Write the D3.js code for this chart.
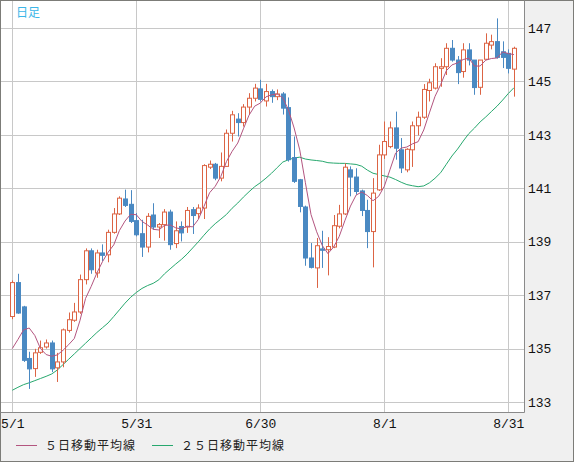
<!DOCTYPE html>
<html>
<head>
<meta charset="utf-8">
<script src="https://cdn.jsdelivr.net/npm/d3@7"></script>
<style>
  body { margin: 0; background: #f0f0f0; }
  svg { display: block; }
</style>
</head>
<body>
<svg></svg>
<script>
// daily candles, 2023-05-01 .. 2023-09-01 (weekdays)
const open = [136.2, 137.47, 136.56, 134.63, 134.25, 134.86, 135.06, 135.21, 134.28, 134.5,
  135.68, 136.06, 136.37, 137.58, 138.66, 137.83, 138.58, 138.51, 139.35, 140.04,
  140.6, 140.4, 139.79, 139.3, 138.8, 140.0, 139.55, 139.64, 140.11, 138.93,
  139.57, 139.55, 140.2, 140.05, 140.26, 141.79, 141.9, 141.38, 141.82, 143.06,
  143.59, 143.46, 144.04, 144.37, 144.72, 144.27, 144.62, 144.43, 144.53, 144.02,
  142.15, 141.32, 140.3, 138.39, 138.02, 138.73, 138.7, 138.8, 139.58, 140.04,
  141.69, 141.42, 140.9, 140.17, 139.38, 140.94, 142.25, 142.56, 143.26, 142.44,
  141.69, 142.44, 143.34, 143.66, 144.66, 144.75, 145.49, 145.55, 146.24, 145.8,
  145.37, 146.18, 145.8, 144.78, 145.83, 146.36, 146.49, 146.11, 146.05, 145.46];
const high = [137.55, 137.8, 136.6, 134.88, 134.99, 135.3, 135.34, 135.3, 134.84, 135.75,
  136.35, 136.71, 137.77, 138.75, 138.75, 138.7, 138.9, 139.45, 140.26, 140.7,
  140.95, 140.93, 140.07, 139.82, 140.07, 140.44, 139.7, 140.22, 140.2, 139.76,
  139.76, 140.3, 140.3, 140.4, 141.9, 142.04, 141.95, 142.34, 143.2, 143.9,
  143.81, 144.15, 144.56, 144.91, 145.06, 144.91, 144.7, 144.7, 144.6, 144.4,
  142.94, 141.35, 140.35, 138.95, 139.14, 139.41, 139.17, 140.0, 140.38, 141.94,
  141.82, 141.75, 140.95, 140.57, 141.38, 142.63, 143.5, 143.5, 143.87, 142.88,
  142.5, 143.5, 143.87, 144.9, 145.1, 145.68, 145.87, 146.43, 146.55, 145.95,
  146.43, 146.43, 145.8, 145.8, 146.8, 146.75, 147.36, 146.5, 146.2, 146.3];
const low = [136.1, 136.3, 134.5, 133.49, 133.94, 134.8, 135.0, 134.12, 133.75, 134.3,
  135.6, 136.0, 136.3, 137.4, 137.8, 137.65, 138.27, 138.23, 139.3, 140.0,
  140.3, 139.7, 139.2, 138.43, 138.6, 139.45, 139.14, 139.04, 138.7, 138.76,
  139.01, 139.33, 139.29, 139.85, 139.85, 141.72, 141.3, 141.26, 141.8, 142.75,
  142.94, 143.31, 143.75, 144.25, 144.25, 144.06, 144.2, 144.3, 143.76, 142.0,
  141.2, 140.1, 138.1, 138.0, 137.27, 138.02, 137.74, 138.76, 139.5, 140.0,
  140.7, 140.76, 139.96, 138.76, 138.04, 140.9, 142.1, 142.5, 142.07, 141.57,
  141.6, 141.8, 142.98, 143.6, 144.25, 144.7, 144.8, 145.24, 145.74, 144.9,
  145.14, 145.6, 144.5, 144.5, 145.8, 146.2, 145.85, 145.5, 145.3, 144.43];
const close = [137.47, 136.33, 134.56, 134.24, 134.84, 135.03, 135.21, 134.24, 134.5, 135.7,
  136.08, 136.37, 137.58, 138.66, 137.95, 138.58, 138.49, 139.35, 140.04, 140.63,
  140.36, 139.76, 139.26, 138.8, 139.95, 139.55, 139.64, 140.11, 138.89, 139.41,
  139.33, 140.17, 139.98, 140.26, 141.85, 141.9, 141.38, 141.82, 143.06, 143.75,
  143.46, 144.04, 144.37, 144.75, 144.33, 144.62, 144.43, 144.53, 144.0, 142.07,
  141.26, 140.32, 138.39, 138.04, 138.85, 138.68, 138.82, 139.6, 140.04, 141.79,
  141.42, 140.88, 140.17, 139.38, 140.82, 142.25, 142.75, 143.26, 142.5, 141.76,
  142.46, 143.34, 143.66, 144.7, 144.95, 145.55, 145.55, 146.24, 145.8, 145.33,
  146.18, 145.8, 144.77, 145.8, 146.43, 146.49, 145.9, 145.9, 145.49, 146.24];

// moving averages before enough closes are on the chart
const ma5Head = [135.0, 135.34, 135.7, 135.77];
const ma25Head = [133.44, 133.55, 133.65, 133.72, 133.8, 133.88, 133.96, 134.05, 134.2, 134.4,
  134.6, 134.8, 135.0, 135.2, 135.4, 135.6, 135.78, 135.96, 136.2, 136.45,
  136.7, 136.92, 137.1, 137.25];

const tickDates = ["2023-05-01", "2023-05-31", "2023-06-30", "2023-08-01", "2023-08-31"];
const tickLabels = ["5/1", "5/31", "6/30", "8/1", "8/31"];
const yTicks = [133, 135, 137, 139, 141, 143, 145, 147];
const legendNames = ["５日移動平均線", "２５日移動平均線"];
const legendColors = ["#b3557f", "#27a86e"];

const width = 574;
const height = 462;
const plotRight = 524;
const plotBottom = 412;

const dates = d3.timeDay
  .range(new Date(2023, 4, 1), new Date(2023, 8, 2))
  .filter((d) => d.getDay() !== 0 && d.getDay() !== 6);
const fmt = d3.timeFormat("%Y-%m-%d");
const dateKeys = dates.map(fmt);

const candles = dateKeys.map((k, i) => ({
  i: i,
  o: open[i],
  h: high[i],
  l: low[i],
  c: close[i],
}));

function movingAvg(n, head) {
  return close.map((_, i) => {
    if (i < n - 1) return head[i];
    return d3.mean(close.slice(i - n + 1, i + 1));
  });
}
const ma5 = movingAvg(5, ma5Head);
const ma25 = movingAvg(25, ma25Head);

const svg = d3.select("svg").attr("width", width).attr("height", height);

// outer frame
svg
  .append("rect")
  .attr("x", 0.5)
  .attr("y", 0.5)
  .attr("width", width - 1)
  .attr("height", height - 1)
  .attr("fill", "#f0f0f0")
  .attr("stroke", "#7c7c78");

svg
  .append("rect")
  .attr("x", 1)
  .attr("y", 1)
  .attr("width", plotRight - 1)
  .attr("height", plotBottom - 1)
  .attr("fill", "#ffffff");

const xScale = d3
  .scaleLinear()
  .domain([0, dateKeys.indexOf("2023-08-31")])
  .range([12.3, 508.3]);

const yScale = d3.scaleLinear().domain([133, 147]).range([402, 28]);

// grid
const grid = svg.append("g").attr("stroke", "#c8c8c8").attr("shape-rendering", "crispEdges");
grid
  .selectAll(".hgrid")
  .data(yTicks)
  .enter()
  .append("line")
  .attr("x1", 1)
  .attr("x2", plotRight)
  .attr("y1", (d) => Math.round(yScale(d)) + 0.5)
  .attr("y2", (d) => Math.round(yScale(d)) + 0.5);
grid
  .selectAll(".vgrid")
  .data(tickDates)
  .enter()
  .append("line")
  .attr("x1", (d) => Math.round(xScale(dateKeys.indexOf(d))) + 0.5)
  .attr("x2", (d) => Math.round(xScale(dateKeys.indexOf(d))) + 0.5)
  .attr("y1", 1)
  .attr("y2", plotBottom);

// plot border (right, bottom)
svg
  .append("path")
  .attr("d", `M${plotRight + 0.5},0.5V${plotBottom + 0.5}H0.5`)
  .attr("fill", "none")
  .attr("stroke", "#8a8a8a");

const plot = svg.append("g");

// moving averages
const line = (vals) =>
  d3
    .line()
    .x((d, i) => xScale(i))
    .y((d) => yScale(d))(vals);

plot
  .append("path")
  .attr("d", line(ma25))
  .attr("fill", "none")
  .attr("stroke", legendColors[1])
  .attr("stroke-width", 1);

// wicks
plot
  .selectAll(".wick")
  .data(candles)
  .enter()
  .append("line")
  .attr("class", "wick")
  .attr("x1", (d) => Math.round(xScale(d.i)) + 0.5)
  .attr("x2", (d) => Math.round(xScale(d.i)) + 0.5)
  .attr("y1", (d) => yScale(d.h))
  .attr("y2", (d) => yScale(d.l))
  .attr("stroke", (d) => (d.c >= d.o ? "#dc6444" : "#4a89c2"))
  .attr("stroke-width", 1);

// bodies
plot
  .selectAll(".body")
  .data(candles)
  .enter()
  .append("rect")
  .attr("class", "body")
  .attr("x", (d) => Math.round(xScale(d.i)) - 1.5)
  .attr("width", 4)
  .attr("y", (d) => yScale(Math.max(d.o, d.c)))
  .attr("height", (d) => Math.max(1, Math.abs(yScale(d.o) - yScale(d.c))))
  .attr("fill", (d) => (d.c >= d.o ? "#ffffff" : "#4a89c2"))
  .attr("stroke", (d) => (d.c >= d.o ? "#dc6444" : "#4a89c2"))
  .attr("stroke-width", 1);

plot
  .append("path")
  .attr("d", line(ma5))
  .attr("fill", "none")
  .attr("stroke", legendColors[0])
  .attr("stroke-width", 1);

// y axis on the right
const yAxis = d3.axisRight(yScale).tickValues(yTicks).tickSize(0).tickPadding(4);
svg
  .append("g")
  .attr("transform", `translate(${plotRight}, 0)`)
  .call(yAxis)
  .call((g) => g.select(".domain").remove())
  .selectAll("text")
  .attr("fill", "#111")
  .style("font-family", "Liberation Mono")
  .style("font-size", "13px");

// x axis labels
const xAxis = d3
  .axisBottom(xScale)
  .tickValues(tickDates.map((d) => dateKeys.indexOf(d)))
  .tickFormat((d, i) => tickLabels[i])
  .tickSize(0)
  .tickPadding(7);
svg
  .append("g")
  .attr("transform", `translate(0, ${plotBottom})`)
  .call(xAxis)
  .call((g) => g.select(".domain").remove())
  .selectAll("text")
  .attr("fill", "#111")
  .style("font-family", "Liberation Mono")
  .style("font-size", "13px");

// label top-left
svg
  .append("text")
  .attr("x", 16)
  .attr("y", 17)
  .text("日足")
  .attr("fill", "#3cb6e8")
  .style("font-family", "Noto Sans CJK JP")
  .style("font-size", "12px");

// legend
const legend = svg
  .selectAll(".legend")
  .data(legendNames)
  .enter()
  .append("g")
  .attr("transform", (d, i) => `translate(${16 + i * 136}, 445)`);
legend
  .append("line")
  .attr("x1", 0)
  .attr("x2", 21)
  .attr("y1", 0.5)
  .attr("y2", 0.5)
  .attr("stroke", (d, i) => legendColors[i]);
legend
  .append("text")
  .attr("x", 29)
  .attr("y", 5)
  .text((d) => d)
  .attr("fill", "#222")
  .style("font-family", "Noto Sans CJK JP")
  .style("font-size", "12px")
  .style("letter-spacing", "1px");
</script>
</body>
</html>
